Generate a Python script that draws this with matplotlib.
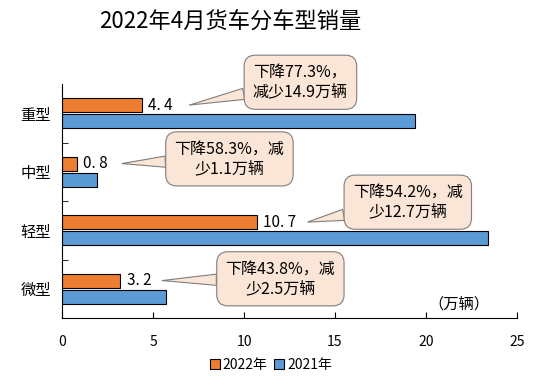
import matplotlib.pyplot as plt
import numpy as np

plt.rcParams['font.family'] = ['Noto Sans CJK SC', 'DejaVu Sans']

categories = ["重型", "中型", "轻型", "微型"]
sales_2022 = [4.4, 0.8, 10.7, 3.2]
sales_2021 = [19.4, 1.9, 23.4, 5.7]
notes = ["下降77.3%，\n减少14.9万辆", "下降58.3%，减\n少1.1万辆",
         "下降54.2%，减\n少12.7万辆", "下降43.8%，减\n少2.5万辆"]
note_pos = [(13.1, -0.53), (9.2, 0.78), (19.0, 1.52), (12.0, 2.83)]
tip_gap = [2.6, 2.5, 2.8, 2.3]

orange = "#ed7d31"
blue = "#5b9bd5"

fig = plt.figure(figsize=(5.53, 3.88), dpi=100)
ax = fig.add_axes([62 / 553, 70 / 388, 455 / 553, 234 / 388])

y = np.arange(len(categories))
h = 0.24
ax.barh(y - h / 2 - 0.02, sales_2022, height=h, color=orange, edgecolor="black",
        linewidth=0.8, label="2022年")
ax.barh(y + h / 2 + 0.02, sales_2021, height=h, color=blue, edgecolor="black",
        linewidth=0.8, label="2021年")

for yi, v in zip(y, sales_2022):
    ax.text(v + 0.35, yi - h / 2 - 0.02, f"{v:.1f}".replace(".", ". "),
            va="center", ha="left", fontsize=11)

for yi, v, txt, (nx, ny), g in zip(y, sales_2022, notes, note_pos, tip_gap):
    ax.annotate(txt, xy=(v + g, yi - h / 2 - 0.02), xytext=(nx, ny),
                ha="center", va="center", fontsize=11.5, linespacing=1.2,
                annotation_clip=False, zorder=5,
                bbox=dict(boxstyle="round,pad=0.55,rounding_size=0.7",
                          fc="#fbe5d6", ec="#7f7f7f", lw=0.8),
                arrowprops=dict(arrowstyle="wedge,tail_width=0.7,shrink_factor=0.5",
                                fc="#fbe5d6", ec="#7f7f7f", lw=0.8,
                                shrinkA=0, shrinkB=0))

ax.set_xlim(0, 25)
ax.set_ylim(3.5, -0.5)
ax.set_xticks([0, 5, 10, 15, 20, 25])
ax.set_yticks(y)
ax.set_yticklabels(categories, fontsize=11)
ax.set_yticks([0.5, 1.5, 2.5], minor=True)
ax.tick_params(axis="y", which="major", length=0, pad=8)
ax.tick_params(axis="y", which="minor", length=4, direction="in")
ax.tick_params(axis="x", length=4, direction="in", pad=12, labelsize=10)
for s in ["top", "right"]:
    ax.spines[s].set_visible(False)
ax.text(23.5, 3.26, "（万辆）", ha="right", va="center", fontsize=11)

fig.text(0.416, 0.943, "2022年4月货车分车型销量", ha="center", va="center", fontsize=16)
fig.legend(loc="lower center", bbox_to_anchor=(0.49, 0.01), ncol=2, frameon=False,
           fontsize=10, handlelength=0.7, handleheight=0.7, handletextpad=0.2,
           columnspacing=0.5)

fig.savefig("out.png", dpi=100)
